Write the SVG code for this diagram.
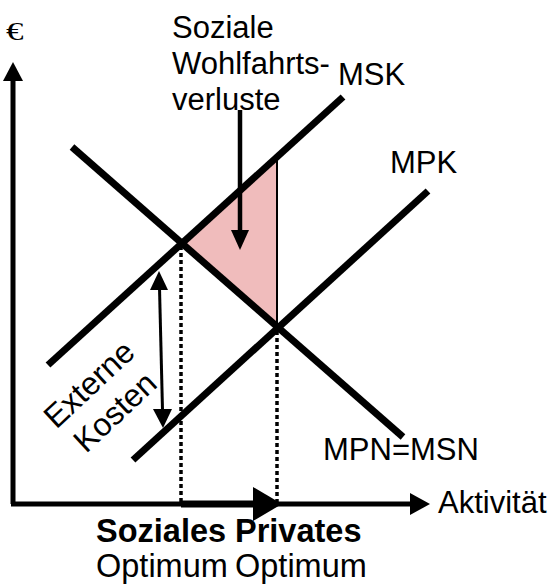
<svg xmlns="http://www.w3.org/2000/svg" width="552" height="588" viewBox="0 0 552 588">
<defs>
<style>
text{font-family:"Liberation Sans",Arial,sans-serif;font-size:31px;fill:#000}
.b{font-weight:bold;font-size:32.5px}
.o{font-size:32.5px}
.curve{stroke:#000;stroke-width:7;fill:none}
.axis{stroke:#000;stroke-width:5;fill:none}
.dot{stroke:#000;stroke-width:3.5;stroke-dasharray:4 3;fill:none}
</style>
</defs>
<rect width="552" height="588" fill="#fff"/>
<g id="loss-area">
<polygon points="181,243 277,157 277,328" fill="#f0bcbc"/>
<line x1="277" y1="157" x2="277" y2="328" stroke="#000" stroke-width="2"/>
</g>
<g id="connectors">
<line class="axis" x1="13" y1="78" x2="13" y2="504"/>
<polygon points="3,81 13,62 23,81"/>
<line class="axis" x1="11" y1="504" x2="412" y2="504"/>
<polygon points="410,493 430,504 410,515"/>
<line class="dot" x1="181" y1="246" x2="181" y2="502"/>
<line class="dot" x1="277" y1="331" x2="277" y2="502"/>
<line x1="181" y1="504" x2="256" y2="504" stroke="#000" stroke-width="7"/>
<polygon points="253,487 282,504 253,521"/>
<line x1="240" y1="110" x2="240" y2="232" stroke="#000" stroke-width="4.5"/>
<polygon points="231,230 249,230 240,250"/>
<line x1="159.5" y1="288" x2="162.5" y2="410" stroke="#000" stroke-width="3"/>
<polygon points="150,290 168,290 159,271"/>
<polygon points="153,409 172,409 163,428"/>
</g>
<g id="MSK"><line class="curve" x1="48" y1="365" x2="343" y2="97"/><text x="338" y="85">MSK</text></g>
<g id="MPN"><line class="curve" x1="72" y1="147" x2="403" y2="437"/><text x="323" y="460">MPN=MSN</text></g>
<g id="MPK"><line class="curve" x1="133" y1="460" x2="428" y2="191"/><text x="390" y="173">MPK</text></g>
<g id="euro"><text transform="translate(6,40) scale(1.4,1)" style="font-family:'Liberation Serif',serif;font-size:25px">€</text></g>
<g id="loss-label" style="font-size:31.5px"><text x="172" y="38">Soziale</text><text x="172" y="74">Wohlfahrts-</text><text x="172" y="110">verluste</text></g>
<g id="extern-label" transform="translate(102,398) rotate(-43)"><text x="0" y="-8" text-anchor="middle" style="font-size:32px">Externe</text><text x="0" y="30" text-anchor="middle" style="font-size:32px">Kosten</text></g>
<g id="x-label"><text x="438" y="513">Aktivität</text></g>
<g id="soz-opt"><text class="b" x="96" y="542">Soziales</text><text class="o" x="96" y="577">Optimum</text></g>
<g id="priv-opt"><text class="b" x="235" y="542">Privates</text><text class="o" x="235" y="577">Optimum</text></g>
</svg>
